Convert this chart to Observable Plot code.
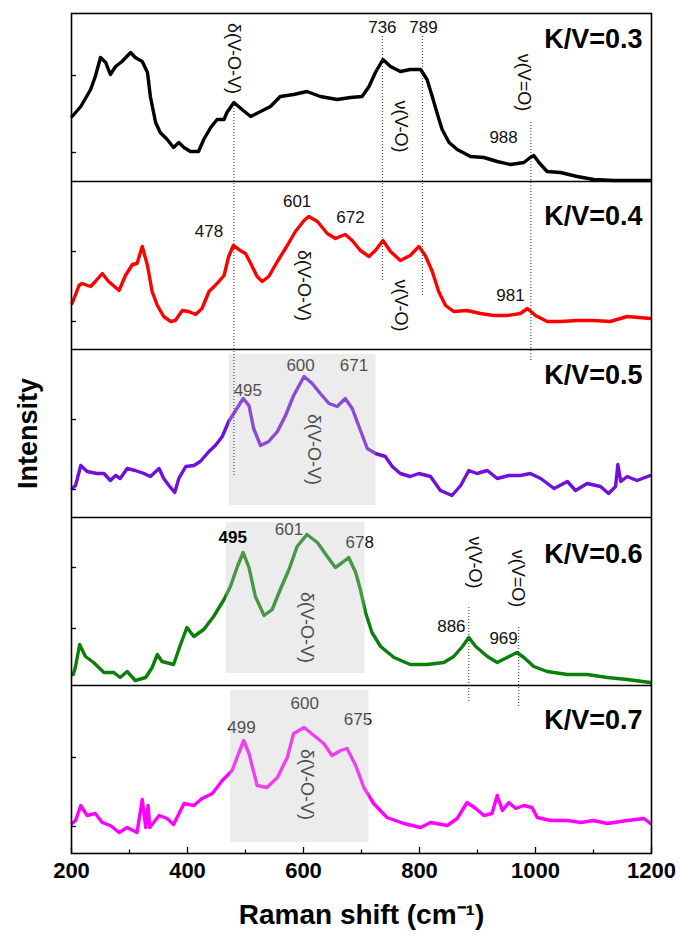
<!DOCTYPE html>
<html><head><meta charset="utf-8">
<script src="https://cdn.jsdelivr.net/npm/d3@7"></script>
<script src="https://cdn.jsdelivr.net/npm/@observablehq/plot@0.6"></script>
<style>body{margin:0;background:#fff} svg{display:block}</style>
</head><body><div id="chart"></div><script>
// ---- data (Raman shift in cm^-1, intensity in a.u. per panel) ----
const panelNames = ["K/V=0.3", "K/V=0.4", "K/V=0.5", "K/V=0.6", "K/V=0.7"];
const panelColors = ["#000000", "#ff0000", "#6f10dc", "#0a800a", "#ff00ff"];

const shiftK03 = [201,216,233,241,250,259,267,276,287,302,310,322,331,336,345,353,365,376,385,394,405,419,428,440,451,463,468,480,494,509,526,543,560,583,606,629,658,681,701,713,724,737,750,767,784,802,813,822,830,839,851,865,888,911,934,957,980,991,997,1006,1020,1043,1072,1100,1135,1169,1198];
const intensityK03 = [65,75,92,105,124,119,107,115,120,129,124,120,109,85,59,49,42,34,39,34,30,30,42,54,62,62,69,79,72,65,70,75,85,87,90,85,82,84,85,95,109,122,115,110,112,112,102,85,69,52,39,32,25,24,20,17,19,24,26,19,10,9,5,2,1,1,1];

const shiftK04 = [201,213,218,233,241,253,264,282,293,305,313,322,331,339,348,359,371,379,391,402,414,425,437,451,463,471,479,491,500,509,520,529,540,555,572,586,601,609,624,641,655,672,684,698,713,724,737,750,767,784,799,810,822,833,845,859,882,905,928,951,974,986,1000,1020,1043,1072,1100,1129,1158,1198];
const intensityK04 = [46,64,66,63,68,76,68,59,74,85,86,103,84,58,44,33,28,29,39,38,35,41,58,66,74,93,104,99,96,86,73,68,73,88,104,118,129,133,128,116,111,115,109,99,93,99,109,98,89,94,103,94,78,58,44,38,39,36,34,34,36,41,34,28,28,29,29,28,33,31];

const shiftK05 = [201,207,216,227,244,256,267,276,284,296,310,325,336,351,359,368,378,385,397,411,422,437,448,460,471,483,496,506,514,526,540,555,569,583,601,615,629,644,658,672,684,695,710,724,741,753,767,784,799,819,836,856,871,885,899,917,934,954,974,991,1009,1032,1055,1069,1089,1112,1126,1138,1142,1147,1158,1175,1198];
const intensityK05 = [29,32,52,46,44,44,37,42,39,49,47,44,41,49,39,32,25,39,51,52,56,66,72,81,96,107,119,112,89,72,76,86,102,122,141,134,124,114,111,119,109,92,69,64,61,51,44,41,44,41,27,22,32,47,44,47,39,42,42,44,39,29,36,27,34,31,24,31,53,36,41,37,42];

const shiftK06 = [203,207,214,224,238,256,273,284,296,310,328,339,348,356,376,388,399,411,428,445,463,474,486,496,506,517,532,546,560,575,589,606,624,641,655,667,678,690,698,707,718,733,756,784,813,842,859,874,885,897,917,934,951,968,980,997,1020,1055,1089,1124,1158,1198];
const intensityK06 = [11,19,41,29,23,13,13,8,14,5,8,18,31,24,21,41,58,49,56,69,86,99,119,133,118,89,70,76,96,116,139,151,143,129,118,123,128,113,96,73,53,39,28,21,21,23,29,39,48,39,29,23,28,33,28,19,14,11,11,8,6,3];

const shiftK07 = [201,207,216,227,241,253,267,282,296,313,322,328,332,335,351,365,376,394,411,425,443,460,477,488,497,506,520,537,555,572,583,601,618,635,649,664,675,690,704,721,744,773,802,819,848,865,882,897,911,925,934,943,954,966,980,994,1003,1026,1055,1078,1100,1124,1158,1187,1198];
const intensityK07 = [30,33,48,38,40,31,28,21,26,21,54,26,48,26,38,35,29,50,48,55,60,73,83,100,113,100,68,66,76,96,120,126,118,110,98,103,105,88,66,50,36,30,26,31,28,35,51,45,38,40,58,43,51,45,48,46,36,33,33,31,33,30,33,35,30];

// peak number labels (peakOnTop: drawn above the shaded band)
const peakPanel = [0,0,0, 1,1,1,1, 2,2,2, 3,3,3,3,3, 4,4,4];
const peakShift = [736,807,945, 437,589,681,957, 504,595,687, 478,575,697,855,945, 493,602,694];
const peakLevel = [154,154,44, 118,148,132,54, 127,152,152, 148,156,143,59,47, 126,150,134];
const peakText  = ["736","789","988", "478","601","672","981", "495","600","671", "495","601","678","886","969", "499","600","675"];
const peakOnTop = [0,0,0, 0,0,0,0, 0,0,0, 1,0,0,0,0, 0,0,0];

// vibrational mode labels (vertical)
const modePanel = [0,0,0, 1,1, 2, 3,3,3, 4];
const modeShift = [480,767,980, 601,767, 618, 605,895,970, 606];
const modeLevel = [123,55,99, 64,44, 68, 58,123,107, 69];
const modeText  = ["δ(V-O-V)","ν(V-O)","ν(V=O)", "δ(V-O-V)","ν(V-O)", "δ(V-O-V)", "δ(V-O-V)","ν(V-O)","ν(V=O)", "δ(V-O-V)"];

// shaded bands
const bandPanel = [2,3,4];
const bandFrom  = [472,467,474];
const bandTo    = [725,706,713];
const bandLow   = [12,12,11];
const bandHigh  = [163,163,163];

// dotted guide lines
const guideShift     = [480,736,805,992,885,971];
const guideFromPanel = [0,0,0,0,3,3];
const guideFromLevel = [79,145,145,59,78,58];
const guideToPanel   = [2,1,1,2,4,4];
const guideToLevel   = [41,68,53,156,152,145];

// y tick levels per panel
const yTickPanel = [0,0,1,1,2,2,3,3,4,4];
const yTickLevel = [106,29,98,28,98,28,118,57,96,27];

const xTicksMajor = [200,400,600,800,1000,1200];
const xTicksMinor = [300,500,700,900,1100];

// ---- build ----
const H = 168, N = panelNames.length;
const Y = (p, v) => (N - 1 - p) * H + v;
const shifts = [shiftK03, shiftK04, shiftK05, shiftK06, shiftK07];
const ints = [intensityK03, intensityK04, intensityK05, intensityK06, intensityK07];
const lineRows = shifts.flatMap((s, i) => s.map((x, j) => ({panel: panelNames[i], x, y: Y(i, ints[i][j])})));
const peakRows = peakText.map((t, i) => ({x: peakShift[i], y: Y(peakPanel[i], peakLevel[i]), t, top: peakOnTop[i]}));
const modeRows = modeText.map((t, i) => ({x: modeShift[i], y: Y(modePanel[i], modeLevel[i]), t}));
const bandRows = bandPanel.map((p, i) => ({x1: bandFrom[i], x2: bandTo[i], y1: Y(p, bandLow[i]), y2: Y(p, bandHigh[i])}));
const guideRows = guideShift.map((x, i) => ({x, y1: Y(guideFromPanel[i], guideFromLevel[i]), y2: Y(guideToPanel[i], guideToLevel[i])}));
const yTicks = yTickLevel.map((v, i) => Y(yTickPanel[i], v));
const nameRows = panelNames.map((n, i) => ({n, y: Y(i, [142,133,142,131,133][i])}));
const boundaries = d3.range(1, N).map(k => k * H);

const chart = Plot.plot({
  width: 680, height: 936,
  marginLeft: 71, marginRight: 29, marginTop: 13, marginBottom: 83,
  x: {domain: [200, 1200], label: null},
  y: {domain: [0, N * H], label: null},
  color: {domain: panelNames, range: panelColors},
  style: {fontFamily: "'Liberation Sans', Arial, sans-serif", background: "white", color: "black"},
  marks: [
    Plot.line(lineRows, {x: "x", y: "y", z: "panel", stroke: "panel", strokeWidth: 3.4, strokeLinejoin: "round"}),
    Plot.text(peakRows.filter(d => !d.top), {x: "x", y: "y", text: "t", fontSize: 17, fill: "#111"}),
    Plot.text(modeRows, {x: "x", y: "y", text: "t", rotate: 90, fontSize: 18, fill: "#111"}),
    Plot.rect(bandRows, {x1: "x1", x2: "x2", y1: "y1", y2: "y2", fill: "#c4c4c4", fillOpacity: 0.33}),
    Plot.text(peakRows.filter(d => d.top), {x: "x", y: "y", text: "t", fontSize: 17, fontWeight: "bold", fill: "#000"}),
    Plot.ruleX(guideRows, {x: "x", y1: "y1", y2: "y2", stroke: "#333", strokeWidth: 1, strokeDasharray: "1,2"}),
    Plot.text(nameRows, {frameAnchor: "right", y: "y", text: "n", dx: -9, textAnchor: "end", fontSize: 27, fontWeight: "bold"}),
    Plot.ruleY(boundaries, {stroke: "black", strokeWidth: 1.6}),
    Plot.frame({stroke: "black", strokeWidth: 1.6}),
    Plot.axisY(yTicks, {tickSize: -5, tickFormat: () => "", label: null, strokeWidth: 1.3}),
    Plot.axisX(xTicksMajor, {tickSize: -6, tickPadding: 15, tickFormat: d => String(d), fontSize: 22, fontWeight: "bold", label: null, strokeWidth: 1.3}),
    Plot.axisX(xTicksMinor, {tickSize: -3.5, tickFormat: () => "", label: null, strokeWidth: 1.3}),
    Plot.text(["Raman shift (cm⁻¹)"], {frameAnchor: "bottom", dy: 62, lineAnchor: "middle", textAnchor: "middle", fontSize: 28, fontWeight: "bold"}),
    Plot.text(["Intensity"], {frameAnchor: "left", dx: -43, rotate: -90, textAnchor: "middle", lineAnchor: "middle", fontSize: 27, fontWeight: "bold"})
  ]
});
document.getElementById("chart").appendChild(chart);
</script></body></html>
